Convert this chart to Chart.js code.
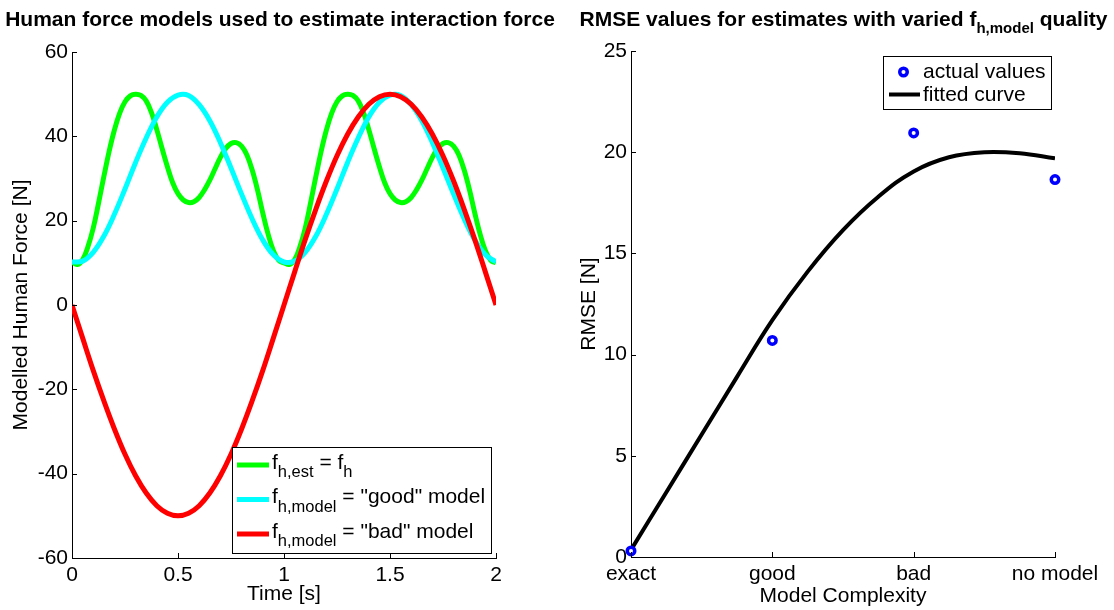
<!DOCTYPE html>
<html><head><meta charset="utf-8">
<script src="https://cdn.jsdelivr.net/npm/chart.js@4.4.1/dist/chart.umd.min.js"></script>
<style>
html,body{margin:0;padding:0;background:#fff;width:1114px;height:610px;overflow:hidden}
#c1{position:absolute;left:0;top:0}
#c2{position:absolute;left:560px;top:0}
</style></head><body>
<canvas id="c1" width="560" height="610"></canvas>
<canvas id="c2" width="554" height="610"></canvas>
<script>
// ---------- data: left panel ----------
const timeFine = [0,0.025,0.05,0.075,0.1,0.125,0.15,0.175,0.2,0.225,0.25,0.275,0.3,0.325,0.35,0.375,0.4,0.425,0.45,0.475,0.5,0.525,0.55,0.575,0.6,0.625,0.65,0.675,0.7,0.725,0.75,0.775,0.8,0.825,0.85,0.875,0.9,0.925,0.95,0.975,1,1.025,1.05,1.075,1.1,1.125,1.15,1.175,1.2,1.225,1.25,1.275,1.3,1.325,1.35,1.375,1.4,1.425,1.45,1.475,1.5,1.525,1.55,1.575,1.6,1.625,1.65,1.675,1.7,1.725,1.75,1.775,1.8,1.825,1.85,1.875,1.9,1.925,1.95,1.975,2];
const timeCoarse = [0,0.05,0.1,0.15,0.2,0.25,0.3,0.35,0.4,0.45,0.5,0.55,0.6,0.65,0.7,0.75,0.8,0.85,0.9,0.95,1,1.05,1.1,1.15,1.2,1.25,1.3,1.35,1.4,1.45,1.5,1.55,1.6,1.65,1.7,1.75,1.8,1.85,1.9,1.95,2];
const forceEst = [10.2,9.6,10.7,13.8,18.2,24.1,30.4,36.4,41.5,45.5,48.2,49.6,50.0,49.7,48.4,45.6,41.6,37.1,32.8,29.0,26.4,24.9,24.3,24.5,25.5,27.3,29.6,32.3,35.0,37.1,38.3,38.5,37.7,35.6,32.0,27.3,21.8,16.8,12.9,10.6,
  10.0,9.6,10.7,13.8,18.2,24.1,30.4,36.4,41.5,45.5,48.2,49.6,50.0,49.7,48.4,45.6,41.6,37.1,32.8,29.0,26.4,24.9,24.3,24.5,25.5,27.3,29.6,32.3,35.0,37.1,38.3,38.5,37.7,35.6,32.0,27.3,21.8,16.8,12.9,10.6,
  10.0];
const forceGood = [10.2,10.4,12.5,16.3,21.5,27.5,33.8,39.6,44.6,48.1,49.8,49.7,47.5,43.7,38.5,32.5,26.3,20.4,15.4,11.9,
  10.2,10.4,12.5,16.3,21.5,27.5,33.8,39.6,44.6,48.1,49.8,49.7,47.5,43.7,38.5,32.5,26.3,20.4,15.4,11.9,10.2];
const forceBad = [0,-7.8,-15.5,-22.7,-29.4,-35.4,-40.5,-44.6,-47.6,-49.4,-50,-49.4,-47.6,-44.6,-40.5,-35.4,-29.4,-22.7,-15.5,-7.8,
  0,7.8,15.5,22.7,29.4,35.4,40.5,44.6,47.6,49.4,50,49.4,47.6,44.6,40.5,35.4,29.4,22.7,15.5,7.8,0];
const leftTitle = [{t:'Human force models used to estimate interaction force'}];
const leftLegend = [
  [{t:'f'},{t:'h,est',sub:true},{t:' = f'},{t:'h',sub:true}],
  [{t:'f'},{t:'h,model',sub:true},{t:' = "good" model'}],
  [{t:'f'},{t:'h,model',sub:true},{t:' = "bad" model'}]
];
// ---------- data: right panel ----------
const complexity = ['exact','good','bad','no model'];
const rmseActual = [0.3,10.7,20.95,18.65];
const fitX = [0,0.25,0.5,0.75,1,1.25,1.5,1.75,2,2.25,2.5,2.75,3];
const fitY = [0.35,3.2,6.05,8.9,11.7,14.1,16.15,17.8,19.05,19.75,20.0,19.95,19.7];
const rightTitle = [{t:'RMSE values for estimates with varied f'},{t:'h,model',sub:true},{t:' quality'}];
const rightLegend = ['actual values','fitted curve'];

// ---------- styling ----------
const FONT = '"Liberation Sans", Arial, Helvetica, sans-serif';
Chart.defaults.font.family = FONT;
Chart.defaults.font.size = 21;
Chart.defaults.color = '#000';
const GREEN='#00ff00', CYAN='#00ffff', RED='#ff0000', BLUE='#0000ff';

function drawRich(ctx, parts, x, y, font, subFont, subDy, align){
  ctx.save(); ctx.fillStyle='#000'; ctx.textBaseline='alphabetic'; ctx.textAlign='left';
  let w=0;
  parts.forEach(p=>{ ctx.font = p.sub?subFont:font; w += ctx.measureText(p.t).width; });
  let cx = align==='center' ? x - w/2 : x;
  parts.forEach(p=>{ ctx.font = p.sub?subFont:font; ctx.fillText(p.t, cx, y + (p.sub?subDy:0)); cx += ctx.measureText(p.t).width; });
  ctx.restore();
}
const innerTicks = { id:'innerTicks', afterDraw(chart){
  const {ctx, chartArea:a, scales:{x,y}} = chart;
  ctx.save(); ctx.strokeStyle='#000'; ctx.lineWidth=1; ctx.beginPath();
  x.ticks.forEach(t=>{const px=Math.round(x.getPixelForValue(t.value))+0.5; ctx.moveTo(px,a.bottom); ctx.lineTo(px,a.bottom-5);});
  y.ticks.forEach(t=>{const py=Math.round(y.getPixelForValue(t.value))+0.5; ctx.moveTo(a.left,py); ctx.lineTo(a.left+5,py);});
  ctx.stroke(); ctx.restore();
}};

function makeOptions(cfg){
  return {
    responsive:false, animation:false, devicePixelRatio:1,
    layout:{padding:{top:cfg.padTop,right:cfg.padRight,left:0,bottom:0}},
    plugins:{legend:{display:false}, tooltip:{enabled:false}},
    elements:{point:{radius:0}, line:{tension:0.4}},
    scales:{
      x:{type:'linear', min:cfg.xmin, max:cfg.xmax,
        ticks:{stepSize:cfg.xstep, autoSkip:false, maxRotation:0, padding:5, color:'#000', callback:cfg.xcb, font:{size:21}},
        grid:{display:false, drawTicks:false, tickLength:0}, border:{display:true,color:'#000',width:1},
        title:{display:true, text:cfg.xTitle, color:'#000', font:{size:21}, padding:{top:0,bottom:cfg.xTitlePad}},
        afterFit:s=>{s.height=cfg.xHeight; s.paddingLeft=0; s.paddingRight=0;}},
      y:{type:'linear', min:cfg.ymin, max:cfg.ymax,
        ticks:{stepSize:cfg.ystep, autoSkip:false, padding:4, color:'#000', font:{size:21}},
        grid:{display:false, drawTicks:false, tickLength:0}, border:{display:true,color:'#000',width:1},
        title:{display:true, text:cfg.yTitle, color:'#000', font:{size:21}, padding:{top:cfg.yTitlePad,bottom:0}},
        afterFit:s=>{s.width=cfg.yWidth; s.paddingTop=0; s.paddingBottom=0;}}
    }
  };
}
const pts = (xs, ys) => xs.map((x,i)=>({x, y:ys[i]}));

// ---------- left chart ----------
const leftDeco = { id:'leftDeco', afterDraw(chart){
  const ctx = chart.ctx;
  drawRich(ctx, leftTitle, 280, 26, 'bold 21px '+FONT, 'bold 15px '+FONT, 7, 'center');
  const bx=232.5, by=447.5, bw=259, bh=106;
  ctx.save(); ctx.fillStyle='#fff'; ctx.fillRect(bx,by,bw,bh);
  ctx.strokeStyle='#000'; ctx.lineWidth=1; ctx.strokeRect(bx,by,bw,bh);
  const cols=[GREEN,CYAN,RED], rows=[465,499.5,534];
  rows.forEach((ry,i)=>{
    ctx.strokeStyle=cols[i]; ctx.lineWidth=5; ctx.beginPath(); ctx.moveTo(237,ry); ctx.lineTo(269,ry); ctx.stroke();
    drawRich(ctx, leftLegend[i], 272, ry+3.5, '21px '+FONT, '16.5px '+FONT, 8.5, 'left');
  });
  ctx.restore();
}};
new Chart(document.getElementById('c1'), {
  type:'line',
  data:{datasets:[
    {data:pts(timeFine,forceEst), borderColor:GREEN, borderWidth:5, order:2},
    {data:pts(timeCoarse,forceGood), borderColor:CYAN, borderWidth:5, order:1},
    {data:pts(timeCoarse,forceBad), borderColor:RED, borderWidth:5, order:0}
  ]},
  options:makeOptions({padTop:52,padRight:64,xmin:0,xmax:2,xstep:0.5,ymin:-60,ymax:60,ystep:20,
    xTitle:'Time [s]',yTitle:'Modelled Human Force [N]',xTitlePad:3,yTitlePad:9,xHeight:52,yWidth:72}),
  plugins:[innerTicks,leftDeco]
});

// ---------- right chart ----------
const rightDeco = { id:'rightDeco', afterDraw(chart){
  const ctx = chart.ctx;
  drawRich(ctx, rightTitle, 283.5, 26, 'bold 21px '+FONT, 'bold 15px '+FONT, 7, 'center');
  const bx=323.5, by=56.5, bw=168, bh=53;
  ctx.save(); ctx.fillStyle='#fff'; ctx.fillRect(bx,by,bw,bh);
  ctx.strokeStyle='#000'; ctx.lineWidth=1; ctx.strokeRect(bx,by,bw,bh);
  ctx.strokeStyle=BLUE; ctx.fillStyle='#fff'; ctx.lineWidth=3.5;
  ctx.beginPath(); ctx.arc(343.5,72,3.75,0,Math.PI*2); ctx.fill(); ctx.stroke();
  ctx.strokeStyle='#000'; ctx.lineWidth=4; ctx.beginPath(); ctx.moveTo(329,94.5); ctx.lineTo(360,94.5); ctx.stroke();
  ctx.fillStyle='#000'; ctx.font='21px '+FONT; ctx.textBaseline='middle'; ctx.textAlign='left';
  ctx.fillText(rightLegend[0], 363, 72); ctx.fillText(rightLegend[1], 363, 95);
  ctx.restore();
}};
new Chart(document.getElementById('c2'), {
  type:'line',
  data:{datasets:[
    {data:pts(fitX,fitY), borderColor:'#000', borderWidth:4, order:1},
    {data:pts([0,1,2,3],rmseActual), showLine:false, clip:false, pointRadius:3.75, pointBorderWidth:3.5, pointBorderColor:BLUE, pointBackgroundColor:'#fff', order:0}
  ]},
  options:makeOptions({padTop:51,padRight:59,xmin:0,xmax:3,xstep:1,ymin:0,ymax:25,ystep:5,
    xcb:v=>complexity[Math.round(v)] ?? '',
    xTitle:'Model Complexity',yTitle:'RMSE [N]',xTitlePad:1,yTitlePad:17,xHeight:53,yWidth:71}),
  plugins:[innerTicks,rightDeco]
});
</script>
</body></html>
